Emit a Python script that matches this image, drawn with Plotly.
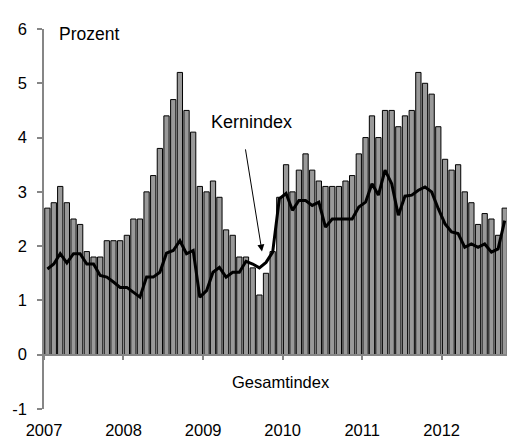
import plotly.graph_objects as go
import pandas as pd

# Monthly observations Jan 2007 - Oct 2012
months = pd.date_range("2007-01-01", periods=70, freq="MS").strftime("%Y-%m-%d").tolist()

gesamtindex = [
    2.7, 2.8, 3.1, 2.8, 2.5, 2.4, 1.9, 1.8, 1.8, 2.1, 2.1, 2.1,
    2.2, 2.5, 2.5, 3.0, 3.3, 3.8, 4.4, 4.7, 5.2, 4.5, 4.1, 3.1,
    3.0, 3.2, 2.9, 2.3, 2.2, 1.8, 1.8, 1.6, 1.1, 1.5, 1.9, 2.9,
    3.5, 3.0, 3.4, 3.7, 3.4, 3.2, 3.1, 3.1, 3.1, 3.2, 3.3, 3.7,
    4.0, 4.4, 4.0, 4.5, 4.5, 4.2, 4.4, 4.5, 5.2, 5.0, 4.8, 4.2,
    3.6, 3.4, 3.5, 3.0, 2.8, 2.4, 2.6, 2.5, 2.2, 2.7,
]

kernindex = [
    1.58, 1.67, 1.86, 1.69, 1.86, 1.86, 1.67, 1.67, 1.46, 1.43, 1.34, 1.24,
    1.24, 1.15, 1.06, 1.43, 1.43, 1.52, 1.87, 1.92, 2.10, 1.86, 1.92, 1.06,
    1.18, 1.52, 1.61, 1.43, 1.52, 1.52, 1.72, 1.67, 1.60, 1.70, 1.89, 2.87,
    2.97, 2.66, 2.84, 2.84, 2.75, 2.81, 2.35, 2.50, 2.50, 2.50, 2.50, 2.72,
    2.81, 3.15, 2.94, 3.40, 3.15, 2.57, 2.92, 2.94, 3.03, 3.09, 3.00, 2.69,
    2.41, 2.26, 2.23, 1.98, 2.04, 1.98, 2.04, 1.89, 1.95, 2.47,
]

year_ticks = ["2007-01-01", "2008-01-01", "2009-01-01", "2010-01-01", "2011-01-01", "2012-01-01"]
year_labels = ["2007", "2008", "2009", "2010", "2011", "2012"]
y_ticks = [-1, 0, 1, 2, 3, 4, 5, 6]
y_labels = ["-1", "0", "1", "2", "3", "4", "5", "6"]

FONT = "Liberation Sans, Arial, sans-serif"
AXIS_GRAY = "#868686"

fig = go.Figure()
fig.add_trace(go.Bar(
    x=months, y=gesamtindex, name="Gesamtindex",
    xperiod="M1", xperiodalignment="middle",
    marker=dict(color="#999999", line=dict(color="black", width=1)),
))
fig.add_trace(go.Scatter(
    x=months, y=kernindex, name="Kernindex", mode="lines",
    xperiod="M1", xperiodalignment="middle",
    line=dict(color="black", width=3),
))

fig.update_layout(
    width=507, height=438,
    margin=dict(l=44, r=0, t=29, b=29),
    paper_bgcolor="white", plot_bgcolor="white",
    showlegend=False, bargap=0.18,
    font=dict(family=FONT, size=16, color="black"),
    xaxis=dict(
        type="date", range=["2007-01-01", "2012-10-27"],
        anchor="free", position=1 / 7,
        showgrid=False, zeroline=False,
        showline=True, linecolor=AXIS_GRAY, linewidth=1.5,
        ticks="outside", ticklen=5, tickcolor=AXIS_GRAY, tickwidth=1.5,
        tickvals=year_ticks, ticktext=year_labels,
        ticklabelstandoff=56, automargin=False,
        tickfont=dict(size=16.5),
    ),
    yaxis=dict(
        range=[-1, 6], showgrid=False, zeroline=False,
        showline=True, linecolor=AXIS_GRAY, linewidth=1.5,
        ticks="outside", ticklen=5, tickcolor=AXIS_GRAY, tickwidth=1.5,
        tickvals=y_ticks, ticktext=y_labels, ticklabelstandoff=7, automargin=False,
        tickfont=dict(size=16.5),
    ),
    annotations=[
        dict(x="2007-07-25", y=(6.12 + 1) / 7, xref="x", yref="paper", text="Prozent",
             showarrow=False, font=dict(size=17.5)),
        dict(x="2009-08-10", y=4.28, xref="x", yref="y", text="Kernindex",
             showarrow=False, font=dict(size=18)),
        dict(x="2009-12-26", y=-0.51, xref="x", yref="y", text="Gesamtindex",
             showarrow=False, font=dict(size=16.5)),
        dict(x="2009-09-28", y=1.90, xref="x", yref="y",
             ax="2009-07-13", ay=3.81, axref="x", ayref="y",
             text="", showarrow=True, arrowhead=2, arrowsize=1.4,
             arrowwidth=1, arrowcolor="black"),
    ],
)

fig.write_html(
    "out.html",
    config={"displayModeBar": False},
    post_script="document.body.style.margin='0';document.body.style.overflow='hidden';",
)
